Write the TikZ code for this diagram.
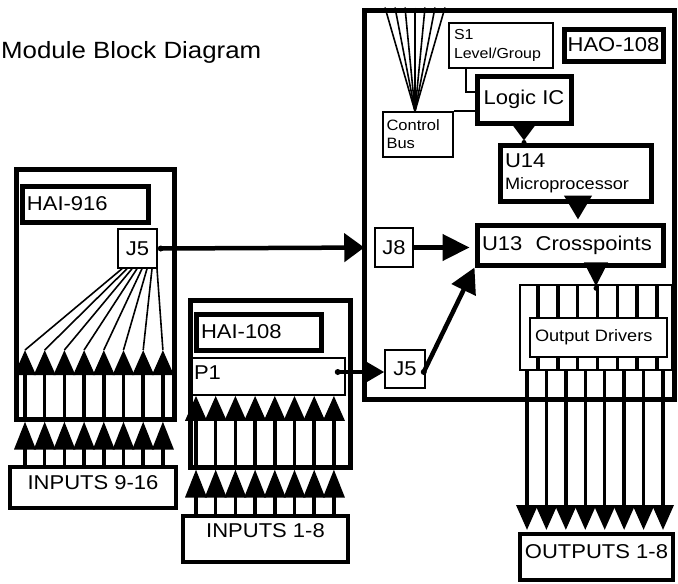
\documentclass[tikz,border=0pt]{standalone}
\usepackage{fontspec}
\setmainfont{Liberation Sans}[FakeStretch=1.1]
\usetikzlibrary{arrows.meta}
\begin{document}
\begin{tikzpicture}[x=1pt,y=-1pt,
  tbox/.style={draw, rectangle, line width=5pt, inner sep=0pt, fill=white},
  mbox/.style={draw, rectangle, line width=4pt, inner sep=0pt, fill=white},
  nbox/.style={draw, rectangle, line width=1.5pt, inner sep=0pt, fill=white},
  f20/.style={font=\fontsize{20}{24}\selectfont},
  f16/.style={font=\fontsize{16.5}{22}\selectfont},
  f15/.style={font=\fontsize{15}{18}\selectfont},
  f14/.style={font=\fontsize{14.5}{19}\selectfont},
  lft/.style={align=left, inner xsep=5pt},
  conn/.style={line width=4.5pt},
  bus/.style={line width=3.5pt},
  fanline/.style={line width=1.6pt},
  dot/.style={radius=3pt},
]
\useasboundingbox (0,0) rectangle (678,584);
\fill[white] (0,0) rectangle (678,584);

\node[font=\fontsize{23.5}{28}\selectfont, anchor=base west, inner sep=0pt] (title) at (1,58) {Module Block Diagram};

% outer modules
\node[tbox, minimum width=158pt, minimum height=250pt] (hai916) at (95,294) {};
\node[tbox, minimum width=160pt, minimum height=167pt] (hai108) at (270,383.5) {};
\node[tbox, minimum width=310pt, minimum height=389pt] (hao) at (519,204.5) {};

% HAI-916 parts
\node[tbox, f20, lft, text width=116pt, minimum height=36pt] (l916) at (85,204) {HAI-916};
\node[nbox, f20, minimum width=39pt, minimum height=39pt] (j5a) at (137.5,248.5) {J5};
\node[mbox, f20, minimum width=166pt, minimum height=41pt, text depth=9pt] (in916) at (93,487.5) {INPUTS 9-16};

% HAI-108 parts
\node[tbox, f20, lft, text width=115pt, minimum height=36pt] (l108) at (258.5,332) {HAI-108};
\node[nbox, f20, align=left, inner xsep=2pt, text width=149pt, minimum height=37pt, text depth=7pt] (p1) at (268.5,376.5) {P1};
\node[mbox, f20, minimum width=165pt, minimum height=46pt, text depth=17pt] (in18) at (265.5,539) {INPUTS 1-8};

% HAO-108 parts
\node[tbox, f20, minimum width=99pt, minimum height=32pt] (lhao) at (613.5,45) {HAO-108};
\node[nbox, f14, lft, text width=94pt, minimum height=45pt] (s1) at (501,45.5) {S1\\Level/Group};
\node[nbox, f15, align=left, inner xsep=3.5pt, text width=63pt, minimum height=45pt] (cbus) at (418,134.5) {Control\\Bus};
\node[tbox, f20, minimum width=94pt, minimum height=47pt] (logic) at (524,99.5) {Logic IC};
\node[tbox, f16, lft, text width=141pt, minimum height=56pt] (u14) at (575.5,173) {{\fontsize{20}{22}\selectfont U14}\\Microprocessor};
\node[tbox, f20, lft, text width=176pt, minimum height=40pt] (u13) at (570,245) {U13~~Crosspoints};
\node[nbox, f20, minimum width=38pt, minimum height=39pt] (j8) at (394,247.5) {J8};
\node[nbox, f20, minimum width=40pt, minimum height=38pt] (j5b) at (405,369) {J5};
\node[nbox, fill=none, minimum width=152pt, minimum height=85pt] (odr) at (596,327.5) {};
\node[mbox, f20, minimum width=153pt, minimum height=46pt, text depth=11pt] (out) at (596.5,557) {OUTPUTS 1-8};

% control bus fan
\foreach \i in {0,...,6}{
  \pgfmathsetmacro\xx{385+10*\i}
  \coordinate (cb\i) at (\xx,0);
  \draw[fanline] (hao.north -| cb\i) -- ([xshift=-3pt]cbus.north);
}
\draw[fanline] (cbus.north east) -- (cbus.north east -| logic.west);
\draw[fanline] ([xshift=-35pt]s1.south) |- ([yshift=7.5pt]logic.west);

% HAI-916 inputs
\foreach \i in {0,...,7}{
  \pgfmathsetmacro\xx{25+19.7*\i}
  \pgfmathsetmacro\xj{122+5*\i}
  \coordinate (ha\i) at (\xx,350);
  \coordinate (hj\i) at (\xj,0);
  \draw[bus, -{Triangle[length=25pt,width=21pt]}] (hai916.south -| ha\i) -- (ha\i);
  \draw[fanline] (ha\i) -- (j5a.south -| hj\i);
  \draw[bus, -{Triangle[length=28pt,width=21pt]}] (in916.north -| ha\i) -- (hai916.south -| ha\i);
}

% HAI-108 inputs
\foreach \i in {0,...,7}{
  \pgfmathsetmacro\xx{196+19.7*\i}
  \coordinate (hb\i) at (\xx,0);
  \draw[bus, -{Triangle[length=25pt,width=21pt]}] (hai108.south -| hb\i) -- (p1.south -| hb\i);
  \draw[bus, -{Triangle[length=28pt,width=21pt]}] (in18.north -| hb\i) -- (hai108.south -| hb\i);
}

% output drivers
\foreach \i in {0,...,6}{
  \pgfmathsetmacro\xx{538+19.83*\i}
  \coordinate (oi\i) at (\xx,0);
  \draw[bus] (odr.north -| oi\i) -- (odr.south -| oi\i);
}
\node[nbox, f16, lft, text width=127pt, minimum height=39pt] (od) at (598.5,337.5) {Output Drivers};
\foreach \i in {0,...,7}{
  \pgfmathsetmacro\xx{527+19.43*\i}
  \coordinate (oo\i) at (\xx,0);
  \draw[bus, -{Triangle[length=25pt,width=21pt]}, shorten >=2pt] (odr.south -| oo\i) -- (out.north -| oo\i);
}

% main connectors
\coordinate (s5a) at ([xshift=3pt]j5a.east);
\coordinate (sp1) at ([xshift=-8pt,yshift=4.5pt]p1.east);
\coordinate (s5b) at ([xshift=-2pt,yshift=-3pt]j5b.east);
\draw[conn, -{Triangle[length=20pt,width=28pt]}, shorten >=10pt] (s5a) -- (j8.west);
\fill (s5a) circle[dot];
\draw[conn, -{Triangle[length=27pt,width=26pt]}, shorten >=5pt] (j8.east) -- (j8.east -| u13.west);
\draw[conn, -{Triangle[length=21pt,width=23pt]}] (sp1) -- ([yshift=-3pt]j5b.west);
\fill (sp1) circle[dot];
\draw[conn, -{Triangle[length=25pt,width=26pt]}] (s5b) -- (u13.south west);
\fill (s5b) circle[dot];
\draw[conn, -{Triangle[length=17pt,width=24pt]}, shorten >=2pt] (logic.south) -- (logic.south |- u14.north);
\fill (logic.south |- u14.north) circle[radius=2.5pt];
\draw[conn, -{Triangle[length=24pt,width=27pt]}, shorten >=3pt] ([xshift=2.5pt]u14.south) -- ([xshift=2.5pt]u14.south |- u13.north);
\draw[conn, -{Triangle[length=24pt,width=23pt]}] (u13.south -| odr.north) -- ([yshift=-2pt]odr.north);
\fill ([yshift=-4pt]odr.north) circle[radius=2.5pt];
\end{tikzpicture}
\end{document}
